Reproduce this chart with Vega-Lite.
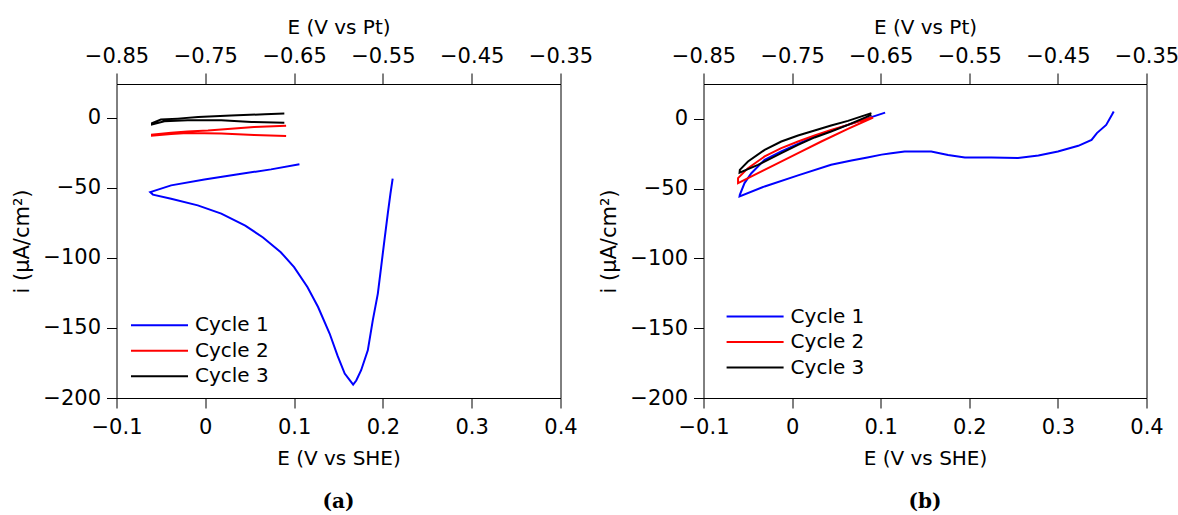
{
  "$schema": "https://vega.github.io/schema/vega-lite/v6.json",
  "padding": {"left": 10.5, "top": 17, "right": 5, "bottom": 5},
  "bounds": "flush",
  "spacing": 143,
  "datasets": {
    "a": [
      {"cycle": "Cycle 1", "seq": 1, "E": 0.106, "i": -33.3},
      {"cycle": "Cycle 1", "seq": 2, "E": 0.074, "i": -36.9},
      {"cycle": "Cycle 1", "seq": 3, "E": 0.037, "i": -40.4},
      {"cycle": "Cycle 1", "seq": 4, "E": -0.001, "i": -44.2},
      {"cycle": "Cycle 1", "seq": 5, "E": -0.0385, "i": -48.3},
      {"cycle": "Cycle 1", "seq": 6, "E": -0.062, "i": -53.1},
      {"cycle": "Cycle 1", "seq": 7, "E": -0.059, "i": -54.9},
      {"cycle": "Cycle 1", "seq": 8, "E": -0.0385, "i": -57.8},
      {"cycle": "Cycle 1", "seq": 9, "E": -0.0085, "i": -62.6},
      {"cycle": "Cycle 1", "seq": 10, "E": 0.018, "i": -68.5},
      {"cycle": "Cycle 1", "seq": 11, "E": 0.045, "i": -77},
      {"cycle": "Cycle 1", "seq": 12, "E": 0.065, "i": -85.5},
      {"cycle": "Cycle 1", "seq": 13, "E": 0.085, "i": -96},
      {"cycle": "Cycle 1", "seq": 14, "E": 0.1, "i": -106.6},
      {"cycle": "Cycle 1", "seq": 15, "E": 0.115, "i": -120.8},
      {"cycle": "Cycle 1", "seq": 16, "E": 0.127, "i": -135.1},
      {"cycle": "Cycle 1", "seq": 17, "E": 0.14, "i": -154},
      {"cycle": "Cycle 1", "seq": 18, "E": 0.149, "i": -170},
      {"cycle": "Cycle 1", "seq": 19, "E": 0.157, "i": -182.6},
      {"cycle": "Cycle 1", "seq": 20, "E": 0.1635, "i": -188},
      {"cycle": "Cycle 1", "seq": 21, "E": 0.1665, "i": -190.5},
      {"cycle": "Cycle 1", "seq": 22, "E": 0.17, "i": -187.5},
      {"cycle": "Cycle 1", "seq": 23, "E": 0.1755, "i": -180.2},
      {"cycle": "Cycle 1", "seq": 24, "E": 0.183, "i": -166},
      {"cycle": "Cycle 1", "seq": 25, "E": 0.1886, "i": -144.6},
      {"cycle": "Cycle 1", "seq": 26, "E": 0.1943, "i": -125.5},
      {"cycle": "Cycle 1", "seq": 27, "E": 0.198, "i": -106.6},
      {"cycle": "Cycle 1", "seq": 28, "E": 0.2017, "i": -87.5},
      {"cycle": "Cycle 1", "seq": 29, "E": 0.2055, "i": -68.5},
      {"cycle": "Cycle 1", "seq": 30, "E": 0.2085, "i": -54.2},
      {"cycle": "Cycle 1", "seq": 31, "E": 0.211, "i": -43.5},
      {"cycle": "Cycle 2", "seq": 1, "E": 0.091, "i": -13.1},
      {"cycle": "Cycle 2", "seq": 2, "E": 0.055, "i": -12.4},
      {"cycle": "Cycle 2", "seq": 3, "E": 0.018, "i": -11.4},
      {"cycle": "Cycle 2", "seq": 4, "E": -0.02, "i": -10.9},
      {"cycle": "Cycle 2", "seq": 5, "E": -0.0385, "i": -11.6},
      {"cycle": "Cycle 2", "seq": 6, "E": -0.06, "i": -12.9},
      {"cycle": "Cycle 2", "seq": 7, "E": -0.06, "i": -12.1},
      {"cycle": "Cycle 2", "seq": 8, "E": -0.0385, "i": -10.7},
      {"cycle": "Cycle 2", "seq": 9, "E": -0.02, "i": -9.8},
      {"cycle": "Cycle 2", "seq": 10, "E": 0.003, "i": -9.1},
      {"cycle": "Cycle 2", "seq": 11, "E": 0.029, "i": -7.9},
      {"cycle": "Cycle 2", "seq": 12, "E": 0.055, "i": -6.7},
      {"cycle": "Cycle 2", "seq": 13, "E": 0.091, "i": -5.7},
      {"cycle": "Cycle 3", "seq": 1, "E": 0.089, "i": -3.6},
      {"cycle": "Cycle 3", "seq": 2, "E": 0.052, "i": -3.1},
      {"cycle": "Cycle 3", "seq": 3, "E": 0.018, "i": -1.9},
      {"cycle": "Cycle 3", "seq": 4, "E": -0.02, "i": -1.9},
      {"cycle": "Cycle 3", "seq": 5, "E": -0.046, "i": -2.6},
      {"cycle": "Cycle 3", "seq": 6, "E": -0.06, "i": -4.8},
      {"cycle": "Cycle 3", "seq": 7, "E": -0.06, "i": -3.9},
      {"cycle": "Cycle 3", "seq": 8, "E": -0.05, "i": -1.4},
      {"cycle": "Cycle 3", "seq": 9, "E": -0.031, "i": -0.7},
      {"cycle": "Cycle 3", "seq": 10, "E": -0.008, "i": 0.4},
      {"cycle": "Cycle 3", "seq": 11, "E": 0.029, "i": 1.6},
      {"cycle": "Cycle 3", "seq": 12, "E": 0.067, "i": 2.4},
      {"cycle": "Cycle 3", "seq": 13, "E": 0.089, "i": 2.9}
    ],
    "b": [
      {"cycle": "Cycle 1", "seq": 1, "E": 0.105, "i": 4.5},
      {"cycle": "Cycle 1", "seq": 2, "E": 0.063, "i": -4.3},
      {"cycle": "Cycle 1", "seq": 3, "E": 0.0254, "i": -12.6},
      {"cycle": "Cycle 1", "seq": 4, "E": -0.0122, "i": -23.3},
      {"cycle": "Cycle 1", "seq": 5, "E": -0.031, "i": -29.3},
      {"cycle": "Cycle 1", "seq": 6, "E": -0.046, "i": -38.9},
      {"cycle": "Cycle 1", "seq": 7, "E": -0.0537, "i": -46},
      {"cycle": "Cycle 1", "seq": 8, "E": -0.059, "i": -54.4},
      {"cycle": "Cycle 1", "seq": 9, "E": -0.0593, "i": -55.5},
      {"cycle": "Cycle 1", "seq": 10, "E": -0.031, "i": -48.4},
      {"cycle": "Cycle 1", "seq": 11, "E": 0.0067, "i": -40.5},
      {"cycle": "Cycle 1", "seq": 12, "E": 0.044, "i": -32.9},
      {"cycle": "Cycle 1", "seq": 13, "E": 0.067, "i": -29.8},
      {"cycle": "Cycle 1", "seq": 14, "E": 0.085, "i": -27.6},
      {"cycle": "Cycle 1", "seq": 15, "E": 0.101, "i": -25.6},
      {"cycle": "Cycle 1", "seq": 16, "E": 0.112, "i": -24.6},
      {"cycle": "Cycle 1", "seq": 17, "E": 0.127, "i": -23.4},
      {"cycle": "Cycle 1", "seq": 18, "E": 0.157, "i": -23.4},
      {"cycle": "Cycle 1", "seq": 19, "E": 0.176, "i": -25.8},
      {"cycle": "Cycle 1", "seq": 20, "E": 0.195, "i": -27.7},
      {"cycle": "Cycle 1", "seq": 21, "E": 0.225, "i": -27.7},
      {"cycle": "Cycle 1", "seq": 22, "E": 0.255, "i": -28.1},
      {"cycle": "Cycle 1", "seq": 23, "E": 0.278, "i": -26.2},
      {"cycle": "Cycle 1", "seq": 24, "E": 0.3, "i": -23.4},
      {"cycle": "Cycle 1", "seq": 25, "E": 0.323, "i": -19.3},
      {"cycle": "Cycle 1", "seq": 26, "E": 0.338, "i": -15},
      {"cycle": "Cycle 1", "seq": 27, "E": 0.344, "i": -10.2},
      {"cycle": "Cycle 1", "seq": 28, "E": 0.3545, "i": -4.3},
      {"cycle": "Cycle 1", "seq": 29, "E": 0.361, "i": 2.9},
      {"cycle": "Cycle 1", "seq": 30, "E": 0.363, "i": 5.3},
      {"cycle": "Cycle 2", "seq": 1, "E": 0.0895, "i": 1.0},
      {"cycle": "Cycle 2", "seq": 2, "E": 0.063, "i": -4.3},
      {"cycle": "Cycle 2", "seq": 3, "E": 0.044, "i": -7.9},
      {"cycle": "Cycle 2", "seq": 4, "E": 0.0254, "i": -11.9},
      {"cycle": "Cycle 2", "seq": 5, "E": 0.0067, "i": -16.2},
      {"cycle": "Cycle 2", "seq": 6, "E": -0.0122, "i": -21},
      {"cycle": "Cycle 2", "seq": 7, "E": -0.031, "i": -26.9},
      {"cycle": "Cycle 2", "seq": 8, "E": -0.0498, "i": -35.3},
      {"cycle": "Cycle 2", "seq": 9, "E": -0.061, "i": -42.4},
      {"cycle": "Cycle 2", "seq": 10, "E": -0.061, "i": -46},
      {"cycle": "Cycle 2", "seq": 11, "E": -0.0424, "i": -40.1},
      {"cycle": "Cycle 2", "seq": 12, "E": -0.0198, "i": -32.9},
      {"cycle": "Cycle 2", "seq": 13, "E": 0.0067, "i": -24.6},
      {"cycle": "Cycle 2", "seq": 14, "E": 0.033, "i": -16.2},
      {"cycle": "Cycle 2", "seq": 15, "E": 0.063, "i": -7.2},
      {"cycle": "Cycle 2", "seq": 16, "E": 0.0914, "i": 1.0},
      {"cycle": "Cycle 3", "seq": 1, "E": 0.0895, "i": 4.1},
      {"cycle": "Cycle 3", "seq": 2, "E": 0.063, "i": -1.4},
      {"cycle": "Cycle 3", "seq": 3, "E": 0.044, "i": -4.7},
      {"cycle": "Cycle 3", "seq": 4, "E": 0.0254, "i": -8.3},
      {"cycle": "Cycle 3", "seq": 5, "E": 0.0067, "i": -11.9},
      {"cycle": "Cycle 3", "seq": 6, "E": -0.0122, "i": -16.2},
      {"cycle": "Cycle 3", "seq": 7, "E": -0.031, "i": -22.2},
      {"cycle": "Cycle 3", "seq": 8, "E": -0.0498, "i": -30.5},
      {"cycle": "Cycle 3", "seq": 9, "E": -0.059, "i": -36.5},
      {"cycle": "Cycle 3", "seq": 10, "E": -0.0593, "i": -38.5},
      {"cycle": "Cycle 3", "seq": 11, "E": -0.0385, "i": -32.9},
      {"cycle": "Cycle 3", "seq": 12, "E": -0.0122, "i": -24.6},
      {"cycle": "Cycle 3", "seq": 13, "E": 0.0067, "i": -18.6},
      {"cycle": "Cycle 3", "seq": 14, "E": 0.0254, "i": -13.3},
      {"cycle": "Cycle 3", "seq": 15, "E": 0.044, "i": -9},
      {"cycle": "Cycle 3", "seq": 16, "E": 0.063, "i": -4.3},
      {"cycle": "Cycle 3", "seq": 17, "E": 0.0895, "i": 2.9}
    ]
  },
  "resolve": {"scale": {"color": "independent"}, "legend": {"color": "independent"}},
  "hconcat": [
    {
      "width": 444,
      "height": 314,
      "data": {"name": "a"},
      "title": {"text": "(a)", "orient": "bottom", "font": "DejaVu Serif", "fontWeight": "bold", "fontSize": 20, "color": "#000", "offset": 24},
      "layer": [
        {
          "mark": {"type": "line", "strokeWidth": 2},
          "encoding": {
            "x": {"field": "E", "type": "quantitative", "scale": {"domain": [-0.1, 0.4], "nice": false, "zero": false},
              "axis": {"orient": "bottom", "values": [-0.1, 0, 0.1, 0.2, 0.3, 0.4], "format": "~g", "title": "E (V vs SHE)", "tickSize": 10, "labelPadding": 8.5, "titlePadding": 10.5}},
            "y": {"field": "i", "type": "quantitative", "scale": {"domain": [-200, 24], "nice": false, "zero": false},
              "axis": {"values": [-200, -150, -100, -50, 0], "title": "i (µA/cm²)", "titleFontSize": 21, "tickSize": 10, "labelPadding": 6, "titlePadding": 10}},
            "color": {"field": "cycle", "type": "nominal",
              "scale": {"domain": ["Cycle 1", "Cycle 2", "Cycle 3"], "range": ["#0000ff", "#ff0000", "#000000"]},
              "legend": {"orient": "none", "legendX": 10.2, "legendY": 231.2, "title": null, "direction": "vertical"}},
            "order": {"field": "seq", "type": "quantitative"}
          }
        },
        {
          "mark": {"type": "line", "opacity": 0},
          "encoding": {
            "x": {"field": "E", "type": "quantitative", "scale": {"domain": [-0.1, 0.4], "nice": false, "zero": false},
              "axis": {"orient": "top", "values": [-0.1, 0, 0.1, 0.2, 0.3, 0.4], "labelExpr": "format(datum.value - 0.75, '.2f')", "title": "E (V vs Pt)", "tickSize": 11, "labelPadding": 6.5, "titlePadding": 8}},
            "y": {"field": "i", "type": "quantitative",
              "axis": {"values": [-200, -150, -100, -50, 0], "title": "i (µA/cm²)", "titleFontSize": 21, "tickSize": 10, "labelPadding": 6, "titlePadding": 10}},
            "detail": {"field": "cycle"},
            "order": {"field": "seq", "type": "quantitative"}
          }
        }
      ],
      "resolve": {"scale": {"x": "independent"}}
    },
    {
      "width": 443,
      "height": 314,
      "data": {"name": "b"},
      "title": {"text": "(b)", "orient": "bottom", "font": "DejaVu Serif", "fontWeight": "bold", "fontSize": 20, "color": "#000", "offset": 24},
      "layer": [
        {
          "mark": {"type": "line", "strokeWidth": 2},
          "encoding": {
            "x": {"field": "E", "type": "quantitative", "scale": {"domain": [-0.1, 0.4], "nice": false, "zero": false},
              "axis": {"orient": "bottom", "values": [-0.1, 0, 0.1, 0.2, 0.3, 0.4], "format": "~g", "title": "E (V vs SHE)", "tickSize": 10, "labelPadding": 8.5, "titlePadding": 10.5}},
            "y": {"field": "i", "type": "quantitative", "scale": {"domain": [-200, 25], "nice": false, "zero": false},
              "axis": {"values": [-200, -150, -100, -50, 0], "title": "i (µA/cm²)", "titleFontSize": 21, "tickSize": 10, "labelPadding": 6, "titlePadding": 10}},
            "color": {"field": "cycle", "type": "nominal",
              "scale": {"domain": ["Cycle 1", "Cycle 2", "Cycle 3"], "range": ["#0000ff", "#ff0000", "#000000"]},
              "legend": {"orient": "none", "legendX": 18.8, "legendY": 222.5, "title": null, "direction": "vertical"}},
            "order": {"field": "seq", "type": "quantitative"}
          }
        },
        {
          "mark": {"type": "line", "opacity": 0},
          "encoding": {
            "x": {"field": "E", "type": "quantitative", "scale": {"domain": [-0.1, 0.4], "nice": false, "zero": false},
              "axis": {"orient": "top", "values": [-0.1, 0, 0.1, 0.2, 0.3, 0.4], "labelExpr": "format(datum.value - 0.75, '.2f')", "title": "E (V vs Pt)", "tickSize": 11, "labelPadding": 6.5, "titlePadding": 8}},
            "y": {"field": "i", "type": "quantitative",
              "axis": {"values": [-200, -150, -100, -50, 0], "title": "i (µA/cm²)", "titleFontSize": 21, "tickSize": 10, "labelPadding": 6, "titlePadding": 10}},
            "detail": {"field": "cycle"},
            "order": {"field": "seq", "type": "quantitative"}
          }
        }
      ],
      "resolve": {"scale": {"x": "independent"}}
    }
  ],
  "config": {
    "font": "DejaVu Sans",
    "view": {"stroke": "#000", "strokeWidth": 1},
    "axis": {"grid": false, "domain": false, "tickColor": "#000", "tickWidth": 1, "labelColor": "#000", "titleColor": "#000",
      "labelFont": "DejaVu Sans", "titleFont": "DejaVu Sans", "labelFontSize": 21, "titleFontSize": 20, "titleFontWeight": "normal",
      "labelFlush": false, "labelOverlap": false, "labelBound": false},
    "legend": {"symbolType": "M-5,0H5", "symbolSize": 130, "symbolStrokeWidth": 2, "symbolOffset": 22.8, "labelOffset": 25.5,
      "labelFont": "DejaVu Sans", "labelFontSize": 20, "labelColor": "#000", "rowPadding": 5.5, "padding": 0, "offset": 0}
  }
}
